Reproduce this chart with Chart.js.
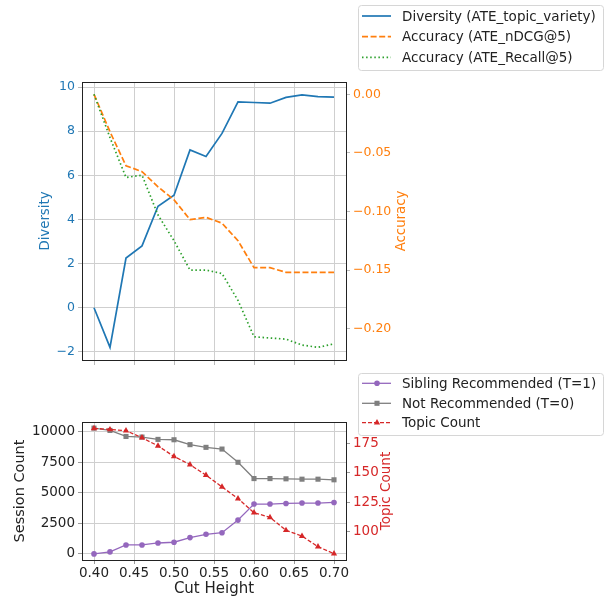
<!DOCTYPE html>
<html>
<head>
<meta charset="utf-8">
<script src="https://cdn.jsdelivr.net/npm/chart.js@4.4.1/dist/chart.umd.min.js"></script>
<style>
  html, body { margin: 0; padding: 0; background: #fff; }
  #wrap { position: relative; width: 606px; height: 599px; }
  canvas { position: absolute; left: 0; top: 0; }
</style>
</head>
<body>
<div id="wrap">
  <canvas id="bottom" width="606" height="599"></canvas>
  <canvas id="top" width="606" height="599"></canvas>
</div>
<script>
// ---- data ----
const cutHeights = [0.40, 0.42, 0.44, 0.46, 0.48, 0.50, 0.52, 0.54, 0.56, 0.58, 0.60, 0.62, 0.64, 0.66, 0.68, 0.70];

const diversity = [0.0, -1.8, 2.25, 2.8, 4.6, 5.1, 7.15, 6.85, 7.9, 9.33, 9.3, 9.27, 9.53, 9.65, 9.57, 9.54];
const ndcg = [0.0, -0.032, -0.061, -0.066, -0.079, -0.090, -0.107, -0.105, -0.110, -0.125, -0.148, -0.148, -0.152, -0.152, -0.152, -0.152];
const recall = [0.0, -0.037, -0.071, -0.069, -0.103, -0.125, -0.150, -0.150, -0.153, -0.176, -0.207, -0.208, -0.209, -0.214, -0.216, -0.213];

const siblingRec = [0, 160, 730, 730, 890, 950, 1330, 1600, 1730, 2760, 4070, 4070, 4120, 4150, 4150, 4200];
const notRec = [10270, 10080, 9590, 9540, 9350, 9320, 8920, 8700, 8560, 7480, 6150, 6150, 6130, 6100, 6100, 6050];
const topicCount = [188, 187, 186, 180, 173, 164, 157, 148, 138, 128, 116, 112, 101, 96, 87, 81];

const xTicks = [0.40, 0.45, 0.50, 0.55, 0.60, 0.65, 0.70];
const diversityTicks = [-2, 0, 2, 4, 6, 8, 10];
const accuracyTicks = [-0.20, -0.15, -0.10, -0.05, 0.00];
const sessionTicks = [0, 2500, 5000, 7500, 10000];
const topicTicks = [100, 125, 150, 175];

const topLabels = ['Diversity (ATE_topic_variety)', 'Accuracy (ATE_nDCG@5)', 'Accuracy (ATE_Recall@5)'];
const bottomLabels = ['Sibling Recommended (T=1)', 'Not Recommended (T=0)', 'Topic Count'];

// ---- helpers ----
const FONT = "'DejaVu Sans', 'Liberation Sans', sans-serif";
const pts = (ys) => cutHeights.map((x, i) => ({ x: x, y: ys[i] }));
const minus = (s) => s.replace('-', '\u2212');
const setTicks = (arr) => (scale) => { scale.ticks = arr.map(v => ({ value: v })); };
const fixWidth = (w) => (scale) => { scale.width = w; };
const fixHeight = (h) => (scale) => { scale.height = h; };

const BLUE = '#1f77b4', ORANGE = '#ff7f0e', GREEN = '#2ca02c';
const PURPLE = '#9467bd', GRAY = '#7f7f7f', RED = '#d62728';
const GRID = '#cfcfcf';

// frame around plot area (matplotlib style spines)
const frame = {
  id: 'frame',
  afterDatasetsDraw(chart) {
    const a = chart.chartArea, ctx = chart.ctx;
    ctx.save();
    ctx.strokeStyle = '#222';
    ctx.lineWidth = 1;
    ctx.strokeRect(Math.round(a.left) + 0.5, Math.round(a.top) + 0.5,
      Math.round(a.right - a.left), Math.round(a.bottom - a.top));
    ctx.restore();
  }
};

// right axis title, reading bottom to top like matplotlib's twinx label
const rightTitle = {
  id: 'rightTitle',
  afterDraw(chart, args, opts) {
    const a = chart.chartArea, ctx = chart.ctx;
    ctx.save();
    ctx.translate(opts.x, (a.top + a.bottom) / 2);
    ctx.rotate(-Math.PI / 2);
    ctx.font = opts.font;
    ctx.fillStyle = opts.color;
    ctx.textAlign = 'center';
    ctx.textBaseline = 'middle';
    ctx.fillText(opts.text, 0, 0);
    ctx.restore();
  }
};

function marker(ctx, style, x, y, r) {
  ctx.beginPath();
  if (style === 'circle') {
    ctx.arc(x, y, r, 0, Math.PI * 2);
  } else if (style === 'rect') {
    const s = r * Math.SQRT1_2;
    ctx.rect(x - s, y - s, 2 * s, 2 * s);
  } else if (style === 'triangle') {
    const h = r * 1.5, side = r * 1.732;
    ctx.moveTo(x - side / 2, y + h / 3);
    ctx.lineTo(x, y - h * 2 / 3);
    ctx.lineTo(x + side / 2, y + h / 3);
    ctx.closePath();
  }
  ctx.fill();
}

// legend outside the plot, drawn like the matplotlib one
const sideLegend = {
  id: 'sideLegend',
  afterDraw(chart, args, opts) {
    const ctx = chart.ctx;
    ctx.save();
    ctx.beginPath();
    if (ctx.roundRect) ctx.roundRect(opts.x + 0.5, opts.y + 0.5, opts.w, opts.h, 3);
    else ctx.rect(opts.x + 0.5, opts.y + 0.5, opts.w, opts.h);
    ctx.fillStyle = 'rgba(255,255,255,0.85)';
    ctx.fill();
    ctx.strokeStyle = '#d6d6d6';
    ctx.lineWidth = 1;
    ctx.stroke();
    ctx.font = opts.font;
    ctx.textBaseline = 'middle';
    ctx.textAlign = 'left';
    chart.data.datasets.forEach((ds, i) => {
      const y = opts.rows[i];
      ctx.strokeStyle = ds.borderColor;
      ctx.lineWidth = ds.borderWidth;
      ctx.setLineDash(ds.borderDash || []);
      ctx.beginPath();
      ctx.moveTo(opts.x + 4, y);
      ctx.lineTo(opts.x + 33, y);
      ctx.stroke();
      ctx.setLineDash([]);
      if (ds.pointRadius > 0) {
        ctx.fillStyle = ds.pointBackgroundColor;
        marker(ctx, ds.pointStyle, opts.x + 19, y, ds.pointRadius);
      }
      ctx.fillStyle = '#222';
      ctx.fillText(ds.label, opts.x + 44, y + 1);
    });
    ctx.restore();
  }
};

Chart.defaults.font.family = FONT;
Chart.defaults.animation = false;

// ---- top chart: diversity vs accuracy ----
new Chart(document.getElementById('top'), {
  type: 'line',
  plugins: [frame, sideLegend, rightTitle],
  data: {
    datasets: [
      { label: topLabels[0], data: pts(diversity), yAxisID: 'y', borderColor: BLUE, borderWidth: 1.7,
        pointRadius: 0, order: 3 },
      { label: topLabels[1], data: pts(ndcg), yAxisID: 'y1', borderColor: ORANGE, borderWidth: 1.7,
        borderDash: [6, 2.6], pointRadius: 0, order: 2 },
      { label: topLabels[2], data: pts(recall), yAxisID: 'y1', borderColor: GREEN, borderWidth: 1.7,
        borderDash: [1.5, 2.6], pointRadius: 0, order: 1 }
    ]
  },
  options: {
    responsive: false,
    devicePixelRatio: 1,
    layout: { padding: { left: 38, right: 196, top: 82, bottom: 233 } },
    plugins: {
      legend: { display: false },
      tooltip: { enabled: false },
      sideLegend: { x: 358, y: 5, w: 245, h: 65, rows: [16, 36.7, 57.3], font: '13.5px ' + FONT },
      rightTitle: { x: 402, text: 'Accuracy', color: ORANGE, font: '13.3px ' + FONT }
    },
    scales: {
      x: {
        type: 'linear', min: 0.385, max: 0.715,
        afterBuildTicks: setTicks(xTicks), afterFit: fixHeight(6),
        ticks: { display: false },
        grid: { color: GRID, tickColor: '#bbb', tickLength: 5 },
        border: { display: false }
      },
      y: {
        position: 'left', min: -2.37, max: 10.23,
        afterBuildTicks: setTicks(diversityTicks), afterFit: fixWidth(44),
        ticks: { color: BLUE, font: { size: 12.5 }, padding: 3, callback: v => minus(String(v)) },
        grid: { color: GRID, tickColor: '#bbb', tickLength: 4 },
        border: { display: false },
        title: { display: true, text: 'Diversity', color: BLUE, font: { size: 13.3, lineHeight: 1.2 }, padding: 0 }
      },
      y1: {
        position: 'right', min: -0.2268, max: 0.0105,
        afterBuildTicks: setTicks(accuracyTicks), afterFit: fixWidth(64),
        ticks: { color: ORANGE, font: { size: 12.5 }, padding: 3, callback: v => minus(v.toFixed(2)) },
        grid: { drawOnChartArea: false, tickColor: '#bbb', tickLength: 4 },
        border: { display: false }
      }
    }
  }
});

// ---- bottom chart: session counts and topic count ----
new Chart(document.getElementById('bottom'), {
  type: 'line',
  plugins: [frame, sideLegend, rightTitle],
  data: {
    datasets: [
      { label: bottomLabels[0], data: pts(siblingRec), yAxisID: 'y', borderColor: PURPLE, borderWidth: 1.3,
        pointStyle: 'circle', pointRadius: 2.8, pointBackgroundColor: PURPLE, pointBorderWidth: 0, order: 3 },
      { label: bottomLabels[1], data: pts(notRec), yAxisID: 'y', borderColor: GRAY, borderWidth: 1.3,
        pointStyle: 'rect', pointRadius: 3.6, pointBackgroundColor: GRAY, pointBorderWidth: 0, order: 2 },
      { label: bottomLabels[2], data: pts(topicCount), yAxisID: 'y1', borderColor: RED, borderWidth: 1.3,
        borderDash: [4, 2], pointStyle: 'triangle', pointRadius: 3.6, pointBackgroundColor: RED,
        pointBorderWidth: 0, order: 1 }
    ]
  },
  options: {
    responsive: false,
    devicePixelRatio: 1,
    layout: { padding: { left: 12, right: 212, top: 422, bottom: 1 } },
    plugins: {
      legend: { display: false },
      tooltip: { enabled: false },
      sideLegend: { x: 358, y: 373, w: 245, h: 62, rows: [383.3, 403.3, 422.7], font: '13.5px ' + FONT },
      rightTitle: { x: 386, text: 'Topic Count', color: RED, font: '13.5px ' + FONT }
    },
    scales: {
      x: {
        type: 'linear', min: 0.385, max: 0.715,
        afterBuildTicks: setTicks(xTicks), afterFit: fixHeight(38),
        ticks: { color: '#222', font: { size: 13.5 }, padding: 1, callback: v => v.toFixed(2) },
        grid: { color: GRID, tickColor: '#999', tickLength: 4 },
        border: { display: false },
        title: { display: true, text: 'Cut Height', color: '#222', font: { size: 15, lineHeight: 1.2 }, padding: 0 }
      },
      y: {
        position: 'left', min: -500, max: 10770,
        afterBuildTicks: setTicks(sessionTicks), afterFit: fixWidth(70),
        ticks: { color: '#222', font: { size: 13.5 }, padding: 3, callback: v => String(v) },
        grid: { color: GRID, tickColor: '#999', tickLength: 4 },
        border: { display: false },
        title: { display: true, text: 'Session Count', color: '#222', font: { size: 14.5, lineHeight: 1.2 }, padding: 0 }
      },
      y1: {
        position: 'right', min: 75.6, max: 193.4,
        afterBuildTicks: setTicks(topicTicks), afterFit: fixWidth(48),
        ticks: { color: RED, font: { size: 13.5 }, padding: 3, callback: v => String(v) },
        grid: { drawOnChartArea: false, tickColor: '#999', tickLength: 4 },
        border: { display: false }
      }
    }
  }
});
</script>
</body>
</html>
